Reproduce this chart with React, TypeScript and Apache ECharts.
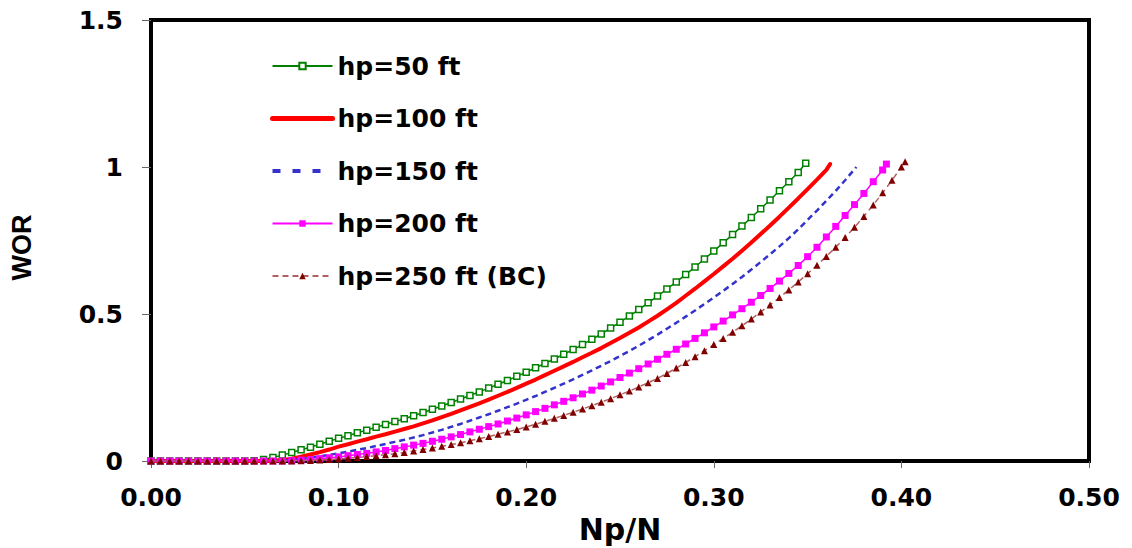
import React, { useEffect, useRef } from "react";
import * as echarts from "echarts";

// Np/N grid (0 .. 0.40 by 0.005)
const NP = [
  0, 0.005, 0.01, 0.015, 0.02, 0.025, 0.03, 0.035, 0.04, 0.045,
  0.05, 0.055, 0.06, 0.065, 0.07, 0.075, 0.08, 0.085, 0.09, 0.095,
  0.1, 0.105, 0.11, 0.115, 0.12, 0.125, 0.13, 0.135, 0.14, 0.145,
  0.15, 0.155, 0.16, 0.165, 0.17, 0.175, 0.18, 0.185, 0.19, 0.195,
  0.2, 0.205, 0.21, 0.215, 0.22, 0.225, 0.23, 0.235, 0.24, 0.245,
  0.25, 0.255, 0.26, 0.265, 0.27, 0.275, 0.28, 0.285, 0.29, 0.295,
  0.3, 0.305, 0.31, 0.315, 0.32, 0.325, 0.33, 0.335, 0.34, 0.345,
  0.35, 0.355, 0.36, 0.365, 0.37, 0.375, 0.38, 0.385, 0.39, 0.395,
  0.4,
];

const WOR_50 = [
  0, 0, 0, 0, 0, 0, 0, 0, 0, 0, 0,
  0.001, 0.005, 0.012, 0.02, 0.029, 0.038, 0.047, 0.057, 0.067,
  0.077, 0.086, 0.096, 0.105, 0.115, 0.124, 0.134, 0.144, 0.154, 0.165,
  0.176, 0.187, 0.199, 0.211, 0.223, 0.235, 0.248, 0.261, 0.274, 0.288,
  0.302, 0.317, 0.332, 0.347, 0.363, 0.379, 0.396, 0.414, 0.432, 0.452,
  0.472, 0.493, 0.515, 0.538, 0.561, 0.585, 0.609, 0.634, 0.66, 0.687,
  0.714, 0.742, 0.77, 0.799, 0.828, 0.858, 0.888, 0.919, 0.95, 0.981,
];

const WOR_100 = [
  0, 0, 0, 0, 0, 0, 0, 0, 0, 0, 0, 0, 0,
  0.001, 0.003, 0.008, 0.015, 0.022, 0.03, 0.039,
  0.049, 0.057, 0.066, 0.074, 0.083, 0.091, 0.1, 0.109, 0.118, 0.128,
  0.138, 0.149, 0.16, 0.172, 0.184, 0.196, 0.209, 0.222, 0.235, 0.249,
  0.263, 0.277, 0.292, 0.307, 0.322, 0.337, 0.353, 0.368, 0.384, 0.401,
  0.418, 0.436, 0.454, 0.474, 0.494, 0.516, 0.538, 0.562, 0.586, 0.611,
  0.636, 0.662, 0.688, 0.715, 0.743, 0.772, 0.801, 0.831, 0.862, 0.893,
  0.925, 0.957, 0.99,
];

const WOR_150 = [
  0, 0, 0, 0, 0, 0, 0, 0, 0, 0, 0, 0, 0, 0,
  0.001, 0.004, 0.007, 0.011, 0.016, 0.021,
  0.026, 0.032, 0.038, 0.044, 0.051, 0.058, 0.065, 0.072, 0.08, 0.088,
  0.097, 0.106, 0.116, 0.126, 0.137, 0.148, 0.159, 0.171, 0.183, 0.195,
  0.208, 0.221, 0.235, 0.249, 0.263, 0.278, 0.293, 0.308, 0.324, 0.34,
  0.357, 0.374, 0.392, 0.411, 0.43, 0.45, 0.47, 0.491, 0.512, 0.534,
  0.556, 0.579, 0.602, 0.626, 0.651, 0.677, 0.703, 0.73, 0.758, 0.788,
  0.82, 0.852, 0.885, 0.919, 0.955,
];

const WOR_200 = [
  0, 0, 0, 0, 0, 0, 0, 0, 0, 0, 0, 0, 0, 0, 0,
  0.001, 0.003, 0.005, 0.008, 0.011,
  0.014, 0.018, 0.022, 0.026, 0.031, 0.036, 0.042, 0.048, 0.054, 0.06,
  0.067, 0.074, 0.082, 0.09, 0.099, 0.108, 0.117, 0.126, 0.136, 0.146,
  0.157, 0.168, 0.179, 0.191, 0.203, 0.215, 0.228, 0.241, 0.255, 0.269,
  0.284, 0.299, 0.314, 0.33, 0.346, 0.363, 0.38, 0.398, 0.417, 0.436,
  0.456, 0.476, 0.497, 0.518, 0.54, 0.563, 0.587, 0.612, 0.638, 0.665,
  0.695, 0.727, 0.762, 0.798, 0.835, 0.872, 0.91, 0.95, 0.99,
];

const WOR_250 = [
  0, 0, 0, 0, 0, 0, 0, 0, 0, 0, 0, 0, 0, 0, 0, 0,
  0.001, 0.002, 0.003, 0.005,
  0.007, 0.009, 0.012, 0.015, 0.018, 0.021, 0.025, 0.029, 0.034, 0.039,
  0.044, 0.05, 0.056, 0.062, 0.069, 0.076, 0.083, 0.091, 0.099, 0.107,
  0.116, 0.125, 0.135, 0.145, 0.155, 0.166, 0.177, 0.188, 0.2, 0.212,
  0.225, 0.238, 0.252, 0.266, 0.281, 0.298, 0.316, 0.335, 0.355, 0.375,
  0.396, 0.417, 0.438, 0.46, 0.483, 0.507, 0.531, 0.556, 0.582, 0.609,
  0.637, 0.666, 0.696, 0.727, 0.76, 0.795, 0.832, 0.871, 0.912, 0.955,
  1.0,
];

// last plotted point of each curve
const END_NP = [0.349, 0.362, 0.376, 0.392, 0.402];
const END_WOR = [1.013, 1.01, 1.0, 1.01, 1.018];

const SERIES_NAMES = [
  "hp=50 ft",
  "hp=100 ft",
  "hp=150 ft",
  "hp=200 ft",
  "hp=250 ft (BC)",
];

const X_TICKS = ["0.00", "0.10", "0.20", "0.30", "0.40", "0.50"];

const WIDE = "'DejaVu Sans', Verdana, sans-serif";
const ARIAL = "'Liberation Sans', Arial, Helvetica, sans-serif";

function pairs(values: number[], k: number): number[][] {
  const out = values.map((w, i) => [NP[i], w]);
  out.push([END_NP[k], END_WOR[k]]);
  return out;
}

export default function App() {
  const ref = useRef<HTMLDivElement>(null);

  useEffect(() => {
    if (!ref.current) return;
    const chart = echarts.init(ref.current, undefined, { renderer: "svg" });

    const option: any = {
      animation: false,
      backgroundColor: "#ffffff",
      grid: {
        left: 151,
        right: 43,
        top: 20,
        bottom: 87,
        show: true,
        borderColor: "#000",
        borderWidth: 4,
        backgroundColor: "transparent",
        containLabel: false,
        outerBoundsMode: "none",
      },
      legend: {
        orient: "vertical",
        left: 270,
        top: 53,
        padding: 0,
        itemWidth: 60,
        itemHeight: 8,
        itemGap: 26.5,
        textStyle: {
          fontFamily: WIDE,
          fontWeight: "bold",
          fontSize: 25,
          color: "#000",
          lineHeight: 26,
        },
        data: [
          { name: SERIES_NAMES[0] },
          {
            name: SERIES_NAMES[1],
            itemStyle: { opacity: 0 },
            lineStyle: { width: 5, color: "#ff0000" },
          },
          {
            name: SERIES_NAMES[2],
            itemStyle: { opacity: 0 },
            lineStyle: { width: 4, color: "#3333cc", type: [8, 12] },
          },
          { name: SERIES_NAMES[3] },
          { name: SERIES_NAMES[4] },
        ],
      },
      xAxis: {
        type: "value",
        min: 0,
        max: 0.5,
        interval: 0.1,
        name: "Np/N",
        nameLocation: "middle",
        nameGap: 49,
        nameTextStyle: {
          fontFamily: WIDE,
          fontWeight: "bold",
          fontSize: 30,
          color: "#000",
        },
        axisLine: { show: true, lineStyle: { color: "#000", width: 4 } },
        axisTick: {
          show: true,
          length: 7,
          lineStyle: { color: "#666", width: 1 },
        },
        axisLabel: {
          margin: 24,
          fontFamily: WIDE,
          fontWeight: "bold",
          fontSize: 25,
          color: "#000",
          formatter: (v: number) => X_TICKS[Math.round(v * 10)] ?? "",
        },
        splitLine: { show: false },
      },
      yAxis: {
        type: "value",
        min: 0,
        max: 1.5,
        interval: 0.5,
        name: "WOR",
        nameLocation: "middle",
        nameGap: 116,
        nameRotate: 90,
        nameTextStyle: {
          fontFamily: ARIAL,
          fontWeight: "bold",
          fontSize: 27,
          color: "#000",
          padding: [0, 14, 0, 0],
        },
        axisLine: { show: true, lineStyle: { color: "#000", width: 4 } },
        axisTick: {
          show: true,
          length: 9,
          lineStyle: { color: "#666", width: 1 },
        },
        axisLabel: {
          margin: 28,
          fontFamily: WIDE,
          fontWeight: "bold",
          fontSize: 25,
          color: "#000",
          formatter: (v: number) => String(v),
        },
        splitLine: { show: false },
      },
      series: [
        {
          name: SERIES_NAMES[0],
          type: "line",
          data: pairs(WOR_50, 0),
          symbol: "rect",
          symbolSize: 6,
          showAllSymbol: true,
          lineStyle: { color: "#008000", width: 1.5 },
          itemStyle: { color: "#ffffff", borderColor: "#008000", borderWidth: 1.5 },
          z: 2,
        },
        {
          name: SERIES_NAMES[1],
          type: "line",
          data: pairs(WOR_100, 1),
          symbol: "none",
          lineStyle: { color: "#ff0000", width: 4, cap: "round" },
          itemStyle: { color: "#ff0000" },
          z: 3,
        },
        {
          name: SERIES_NAMES[2],
          type: "line",
          data: pairs(WOR_150, 2),
          symbol: "none",
          lineStyle: { color: "#3333cc", width: 2.5, type: [6, 4] },
          itemStyle: { color: "#3333cc" },
          z: 4,
        },
        {
          name: SERIES_NAMES[3],
          type: "line",
          data: pairs(WOR_200, 3),
          symbol: "rect",
          symbolSize: 7,
          showAllSymbol: true,
          lineStyle: { color: "#ff00ff", width: 1.5 },
          itemStyle: { color: "#ff00ff" },
          z: 5,
        },
        {
          name: SERIES_NAMES[4],
          type: "line",
          data: pairs(WOR_250, 4),
          symbol: "triangle",
          symbolSize: 7,
          showAllSymbol: true,
          lineStyle: { color: "#b06060", width: 1.5, type: [6, 4] },
          itemStyle: { color: "#800000" },
          z: 6,
        },
      ],
    };

    chart.setOption(option);
    return () => chart.dispose();
  }, []);

  return (
    <div
      ref={ref}
      style={{
        position: "absolute",
        left: 0,
        top: 0,
        width: 1132,
        height: 548,
        background: "#fff",
      }}
    />
  );
}
